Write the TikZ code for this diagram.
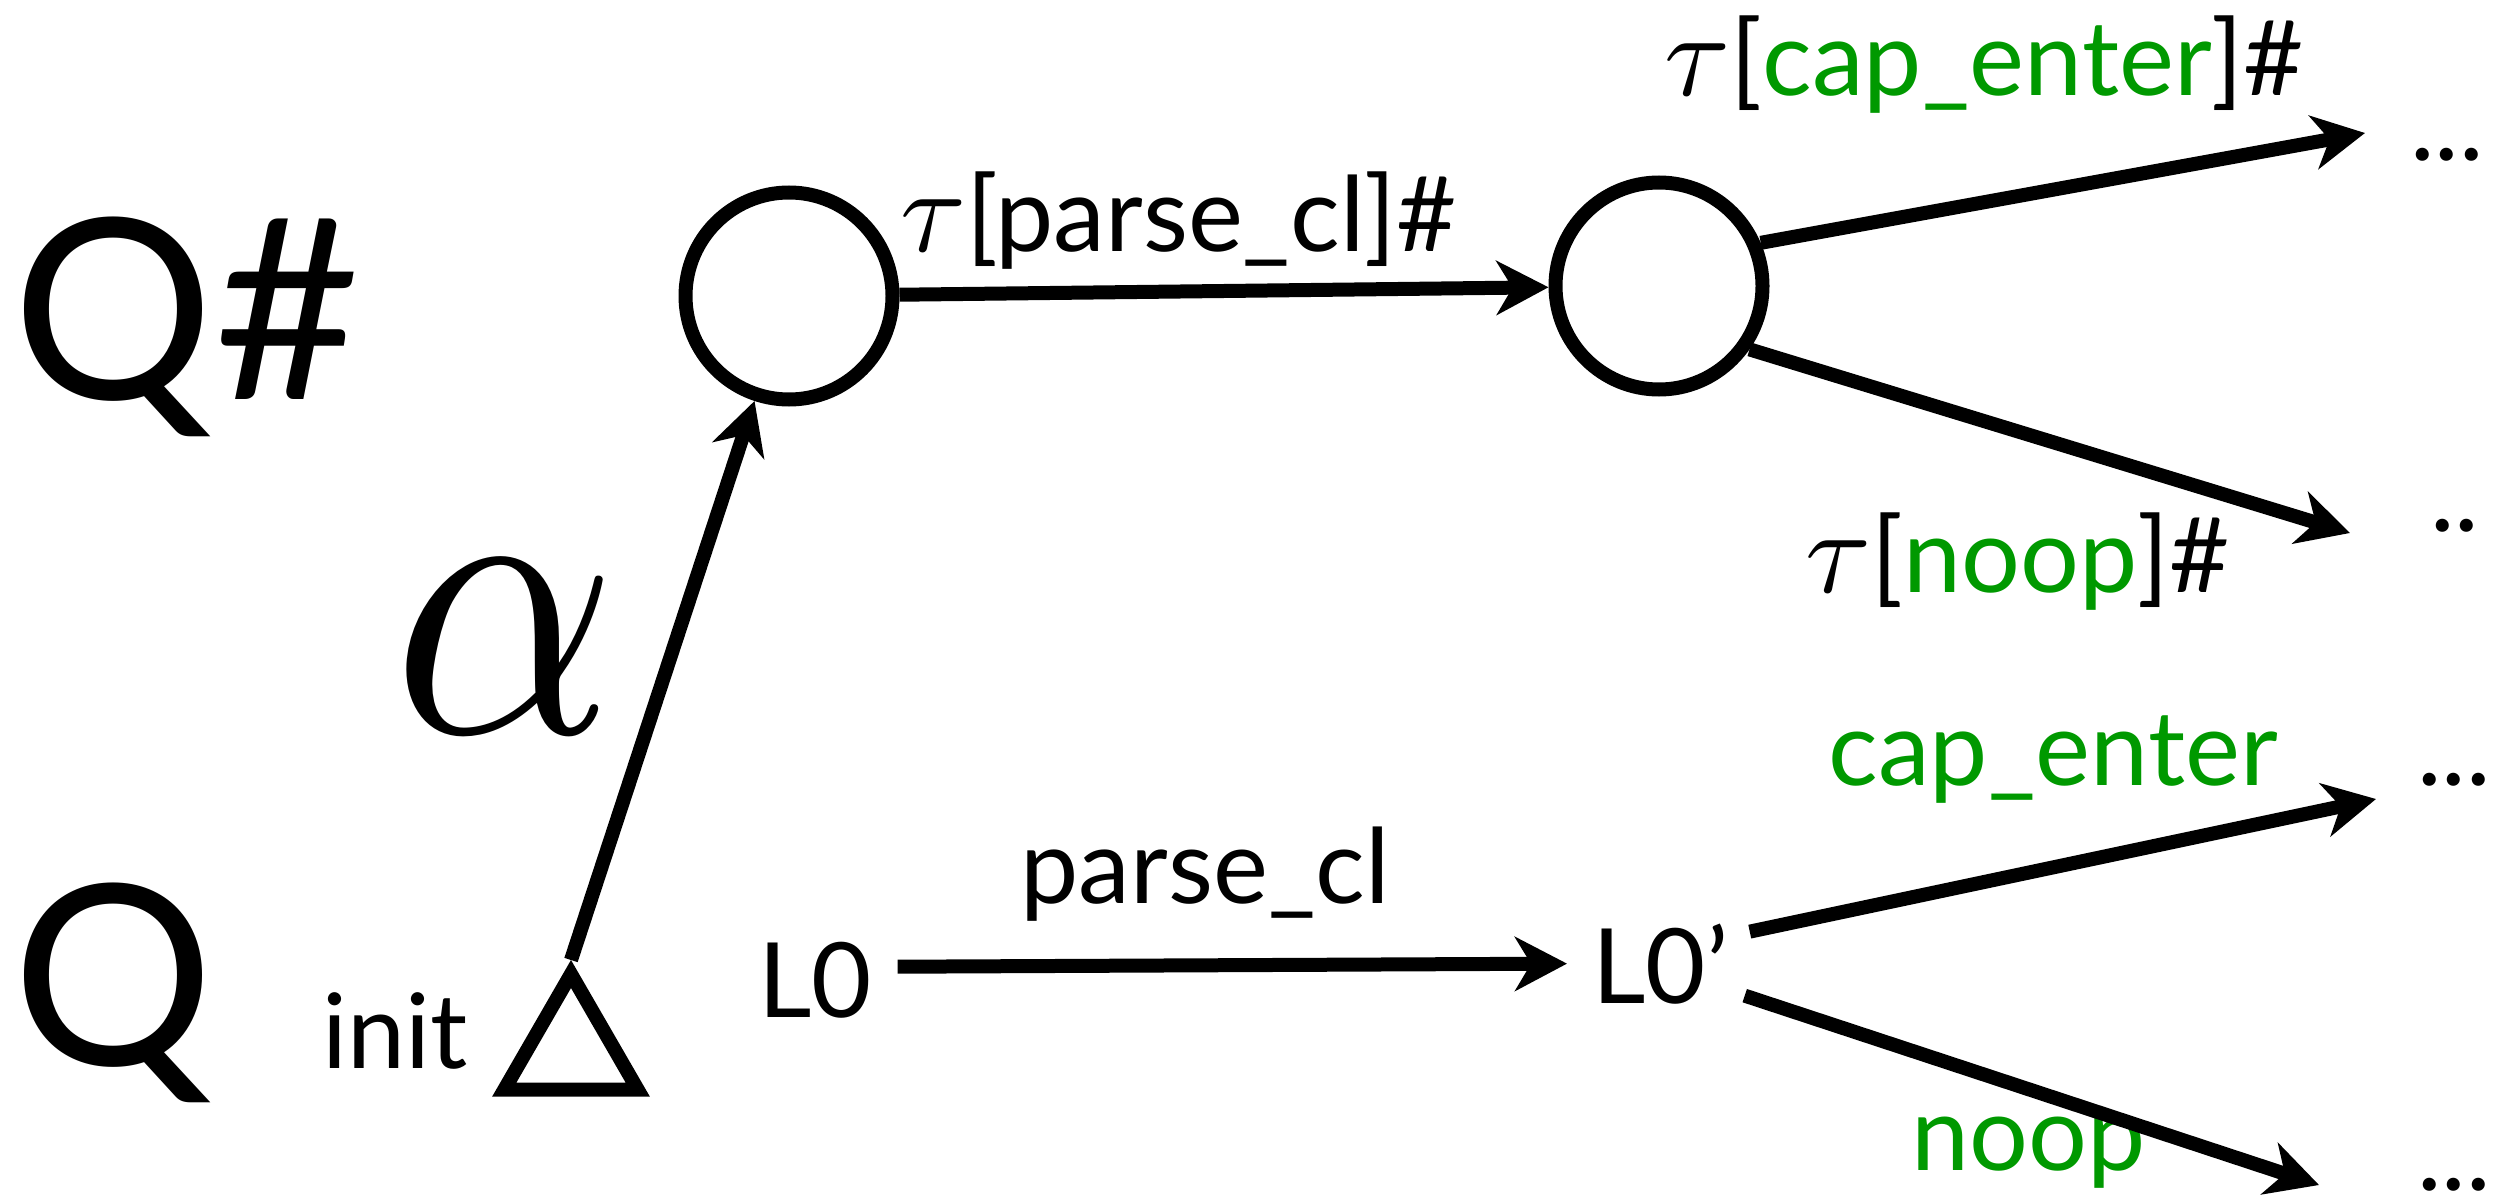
\documentclass[tikz,border=0pt]{standalone}
\usepackage{fontspec}
\setmainfont{Lato}
\usetikzlibrary{arrows.meta,shapes.geometric}
\definecolor{lblgreen}{RGB}{0,153,0}
\newcommand\mytau{\scalebox{6}{\normalsize$\tau$}}
\begin{document}
\begin{tikzpicture}[x=0.5pt,y=-0.5pt,
  lbl/.style={anchor=base west, inner sep=0pt, font=\fontsize{52}{60}\selectfont},
  big/.style={anchor=base west, inner sep=0pt, font=\fontsize{126}{140}\selectfont},
  state/.style={circle, draw, line width=7pt, minimum size=103.5pt, inner sep=0pt},
  initstate/.style={regular polygon, regular polygon sides=3, draw, line width=7pt, minimum size=77pt, inner sep=0pt},
  arr/.style={line width=7pt, -{Stealth[length=26pt, width=27pt, inset=8pt]}},
]
\useasboundingbox (0,0) rectangle (2509,1203);

% big labels
\node[big] (qs) at (12,400) {Q\#};
\node[big] (q) at (12,1065) {Q};

% states
\node[state] (c1) at (789,296) {};
\node[state] (c2) at (1659,286) {};
\node[initstate] (tri) at (571,1051) {};
\node[lbl] (init) at (322,1068) {init};
\node (alpha) at (505,647) {\scalebox{17.5}[19.9]{$\alpha$}};

% labels
\node[lbl] (tpcl) at (900,252) {{\mytau}[parse\_cl]\#};
\node[lbl] (tce) at (1664,96) {{\mytau}[\textcolor{lblgreen}{cap\_enter}]\#};
\node[lbl] (tnp) at (1805,592) {{\mytau}[\textcolor{lblgreen}{noop}]\#};
\node[lbl] (pcl) at (1020,903) {parse\_cl};
\node[lbl] (L0) at (758,1017) {L0};
\node[lbl] (L0p) at (1592,1003) {L0’};
\node[lbl, text=lblgreen] (ce) at (1828,785) {cap\_enter};
\node[lbl, text=lblgreen] (np) at (1911,1170) {noop};
\node[lbl] (d1) at (2410,161) {...};
\node[lbl] (d2) at (2430,531) {..};
\node[lbl] (d3) at (2417,785) {...};
\node[lbl] (d4) at (2417,1190) {...};

% free arrow ends
\coordinate (t1) at (2365,133);
\coordinate (t2) at (2350,533);
\coordinate (t3) at (2376,799);
\coordinate (t4) at (2319,1185);

% connectors
\draw[arr] (tri.corner 1) -- (c1);
\draw[arr] (c1) -- (c2);
\draw[arr] (c2.23) -- (t1);
\draw[arr] (c2.-35) -- (t2);
\draw[arr] ([shift={(12.5pt,6.5pt)}]L0.east) -- ([xshift=-12.5pt]L0p.west);
\draw[arr] ([shift={(10.5pt,16pt)}]L0p.east) -- (t3);
\draw[arr] ([shift={(8pt,-16pt)}]L0p.east) -- (t4);
\end{tikzpicture}
\end{document}
